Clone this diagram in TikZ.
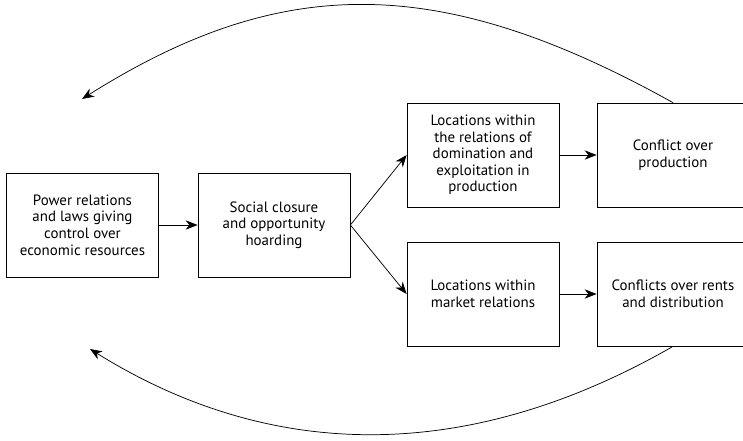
\documentclass[tikz,border=0pt]{standalone}
\usepackage{fontspec}
\setmainfont{PT Sans}
\usepackage{tikz}
\usetikzlibrary{arrows.meta}

\begin{document}
\begin{tikzpicture}[
    x=0.75pt, y=-0.75pt,
    box/.style={draw, line width=0.55pt, minimum width=114pt, minimum height=78pt,
        align=center, font=\fontsize{11.2}{12.4}\selectfont, inner sep=0pt},
    link/.style={line width=0.55pt, -{Stealth[length=9pt,width=7pt,inset=2.8pt]}}
]
    \useasboundingbox (0,0) rectangle (743,440);
    \clip (0,0) rectangle (743,440);

    \node[box] (power) at (82.5,225) {Power relations\\and laws giving\\control over\\economic resources};
    \node[box] (closure) at (274,225) {Social closure\\and opportunity\\hoarding};
    \node[box] (locprod) at (483,155) {Locations within\\the relations of\\domination and\\exploitation in\\production};
    \node[box] (confprod) at (673,155) {Conflict over\\production};
    \node[box] (locmarket) at (483,294) {Locations within\\market relations};
    \node[box] (confrents) at (673,294) {Conflicts over rents\\and distribution};

    \coordinate (topend) at (82,99);
    \coordinate (botend) at (90,349);

    \draw[link] (power) -- (closure);
    \draw[link] (closure.east) -- (locprod.west);
    \draw[link] (closure.east) -- (locmarket.west);
    \draw[link] (locprod) -- (confprod);
    \draw[link] (locmarket) -- (confrents);

    % feedback loops
    \draw[link] (confprod.north) .. controls (440,-27) and (282,-27) .. (topend);
    \draw[link] (confrents.south) .. controls (470,463) and (273,463) .. (botend);
\end{tikzpicture}
\end{document}
